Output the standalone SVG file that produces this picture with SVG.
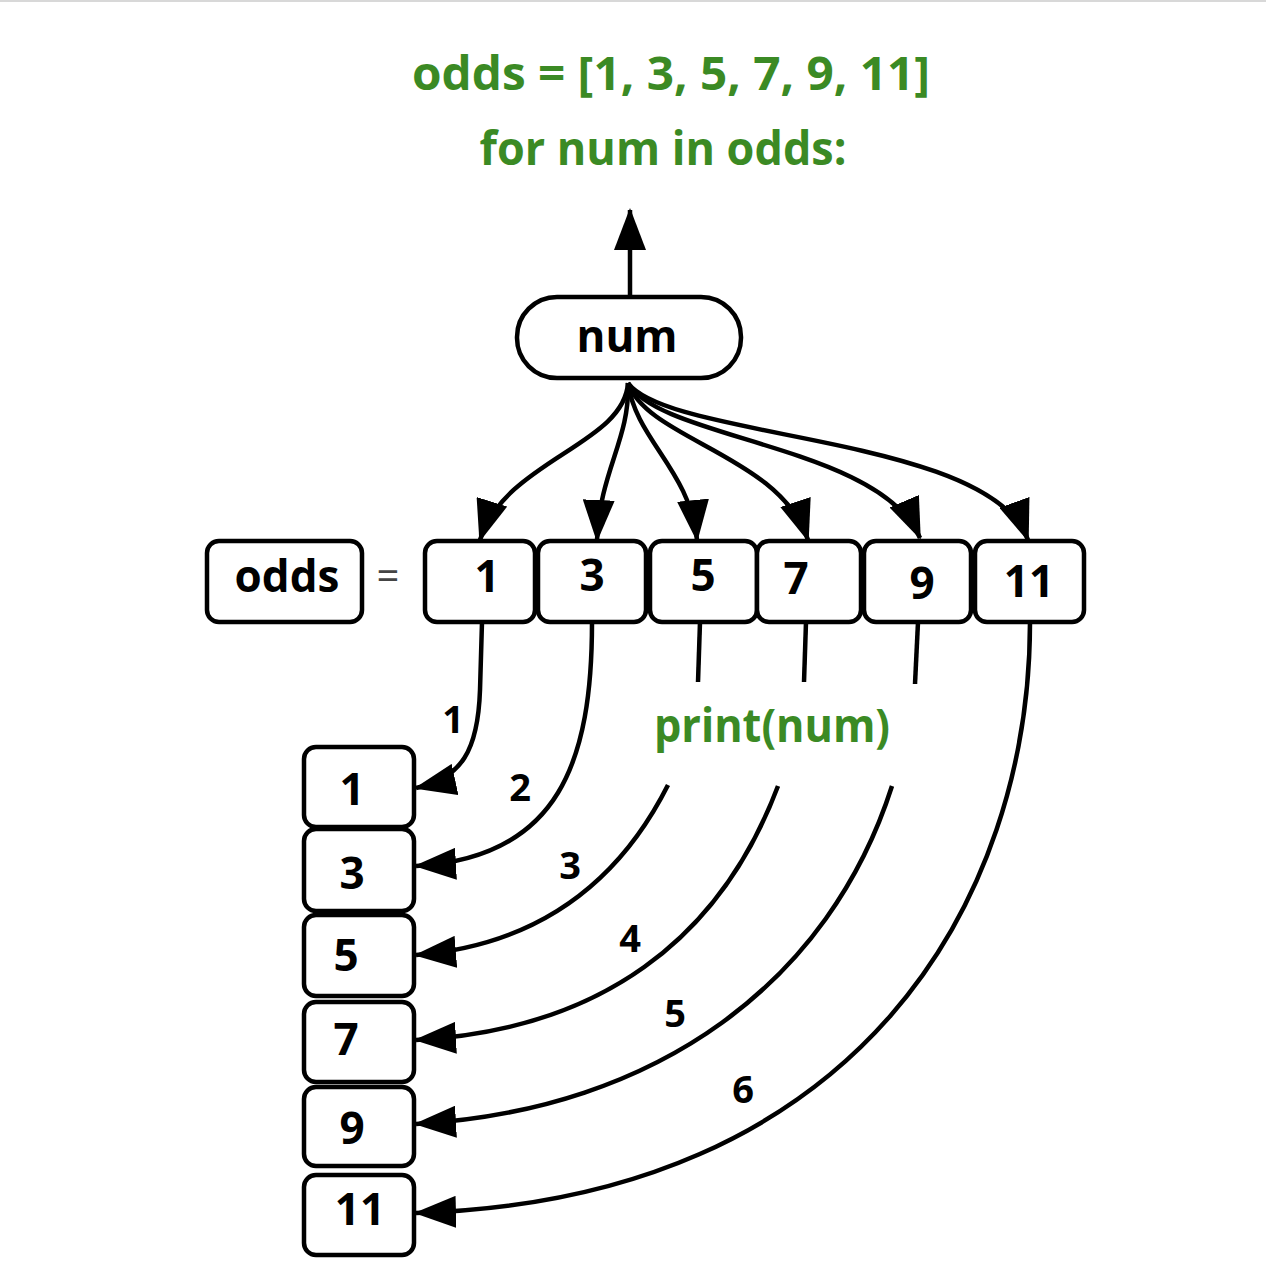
<svg xmlns="http://www.w3.org/2000/svg" width="1266" height="1284" viewBox="0 0 1266 1284">
<style>
.g{font-family:"Open Sans","Noto Sans",sans-serif;font-weight:bold;fill:#3b8a24;text-anchor:middle}
.t{font-family:"Open Sans","Noto Sans",sans-serif;font-weight:bold;fill:#000;text-anchor:middle;font-size:44px}
.e{font-family:"Open Sans","Noto Sans",sans-serif;font-weight:bold;fill:#000;text-anchor:middle;font-size:38px}
.b{fill:#fff;stroke:#000;stroke-width:4.5}
.c{fill:none;stroke:#000;stroke-width:4.5}
</style>
<defs>
<marker id="ah" markerUnits="userSpaceOnUse" viewBox="0 0 42 32" markerWidth="42" markerHeight="32" refX="40" refY="16" orient="auto">
<path d="M0,0 L42,16 L0,32 Z" fill="#000"/>
</marker>
</defs>
<rect x="0" y="0" width="1266" height="1284" fill="#fff"/>
<line x1="0" y1="1" x2="1266" y2="1" stroke="#d8d8d8" stroke-width="2"/>
<g id="title">
<text class="g" x="671" y="90" font-size="46" textLength="518" lengthAdjust="spacingAndGlyphs">odds = [1, 3, 5, 7, 9, 11]</text>
<text class="g" x="663" y="165" font-size="46" textLength="367" lengthAdjust="spacingAndGlyphs">for num in odds:</text>
</g>
<g id="print">
<text class="g" x="772" y="742" font-size="46" textLength="236" lengthAdjust="spacingAndGlyphs">print(num)</text>
</g>
<g id="connectors">
<path class="c" d="M630,297 L630,210" marker-end="url(#ah)"/>
<path class="c" d="M628,383 C624,445 505,460 480,540" marker-end="url(#ah)"/>
<path class="c" d="M628,383 C630,440 600,470 597,540" marker-end="url(#ah)"/>
<path class="c" d="M628,383 C636,440 690,470 697,540" marker-end="url(#ah)"/>
<path class="c" d="M628,383 C648,440 780,455 808,540" marker-end="url(#ah)"/>
<path class="c" d="M628,383 C660,440 880,445 920,538" marker-end="url(#ah)"/>
<path class="c" d="M628,383 C670,440 990,435 1028,540" marker-end="url(#ah)"/>
<path class="c" d="M482,622 L480,690 C478,750 462,778 416,788" marker-end="url(#ah)"/>
<path class="c" d="M592,622 C592,760 560,858 416,866" marker-end="url(#ah)"/>
<path class="c" d="M700,622 L698,682"/>
<path class="c" d="M668,785 C620,880 540,945 416,955" marker-end="url(#ah)"/>
<path class="c" d="M806,622 L804,682"/>
<path class="c" d="M778,786 C720,940 600,1030 416,1040" marker-end="url(#ah)"/>
<path class="c" d="M918,622 L915,684"/>
<path class="c" d="M892,786 C830,980 660,1110 416,1124" marker-end="url(#ah)"/>
<path class="c" d="M1030,622 C1030,900 860,1200 416,1213" marker-end="url(#ah)"/>
<text class="e" x="453" y="733">1</text>
<text class="e" x="520" y="801">2</text>
<text class="e" x="570" y="879">3</text>
<text class="e" x="630" y="952">4</text>
<text class="e" x="675" y="1027">5</text>
<text class="e" x="743" y="1103">6</text>
</g>
<g id="num"><rect class="b" x="517" y="297" width="224" height="81" rx="40"/><text class="t" x="627" y="352">num</text></g>
<g id="odds"><rect class="b" x="207" y="541" width="155" height="81" rx="12"/><text class="t" x="287" y="592">odds</text></g>
<g id="eq"><text x="388" y="590" font-family="Open Sans,sans-serif" font-size="40" fill="#444" text-anchor="middle">=</text></g>
<g id="r1"><rect class="b" x="425" y="541" width="110" height="81" rx="12"/><text class="t" x="487" y="592">1</text></g>
<g id="r3"><rect class="b" x="538" y="541" width="108" height="81" rx="12"/><text class="t" x="592" y="591">3</text></g>
<g id="r5"><rect class="b" x="650" y="541" width="107" height="81" rx="12"/><text class="t" x="703" y="591">5</text></g>
<g id="r7"><rect class="b" x="757" y="541" width="104" height="81" rx="12"/><text class="t" x="796" y="594">7</text></g>
<g id="r9"><rect class="b" x="864" y="541" width="107" height="81" rx="12"/><text class="t" x="922" y="599">9</text></g>
<g id="r11"><rect class="b" x="975" y="541" width="109" height="81" rx="12"/><text class="t" x="1029" y="597">11</text></g>
<g id="c1"><rect class="b" x="304" y="747" width="110" height="80" rx="12"/><text class="t" x="352" y="805">1</text></g>
<g id="c3"><rect class="b" x="304" y="829" width="110" height="82" rx="12"/><text class="t" x="352" y="889">3</text></g>
<g id="c5"><rect class="b" x="304" y="915" width="110" height="81" rx="12"/><text class="t" x="346" y="971">5</text></g>
<g id="c7"><rect class="b" x="304" y="1002" width="110" height="80" rx="12"/><text class="t" x="346" y="1055">7</text></g>
<g id="c9"><rect class="b" x="304" y="1087" width="110" height="79" rx="12"/><text class="t" x="352" y="1144">9</text></g>
<g id="c11"><rect class="b" x="304" y="1175" width="110" height="80" rx="12"/><text class="t" x="360" y="1225">11</text></g>
</svg>
